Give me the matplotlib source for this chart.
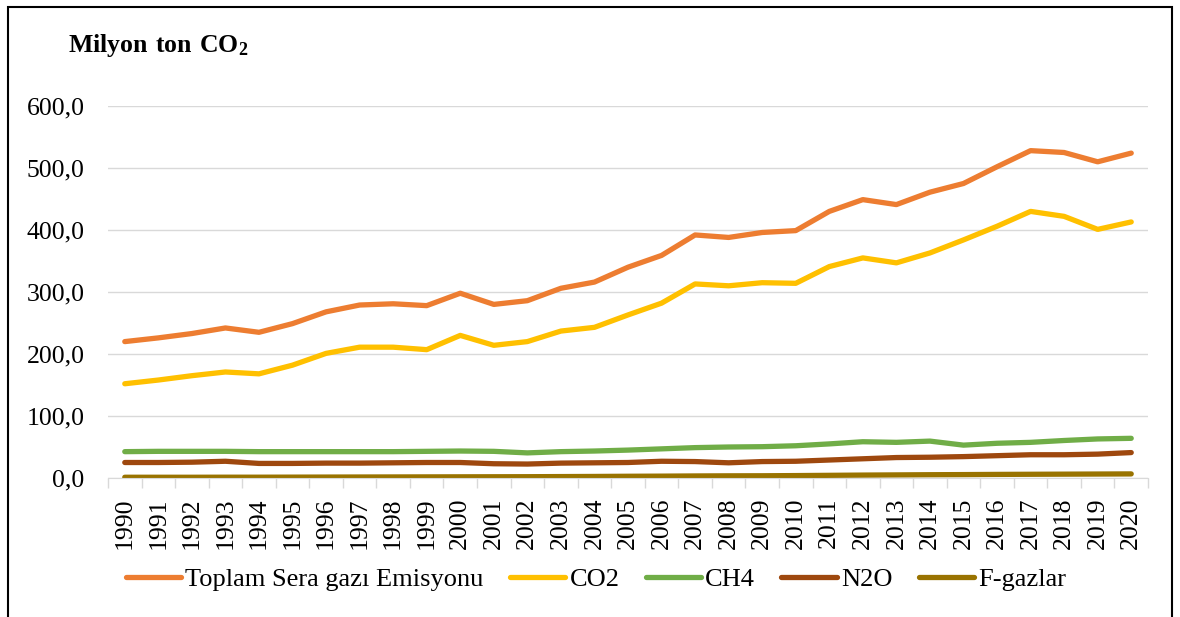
import matplotlib
matplotlib.use("Agg")
import matplotlib.pyplot as plt
import matplotlib.patches as mpat
from matplotlib.ticker import FuncFormatter, MultipleLocator
import numpy as np

plt.rcParams['font.family'] = ['Liberation Serif', 'DejaVu Serif']
plt.rcParams['mathtext.fontset'] = 'custom'
plt.rcParams['mathtext.rm'] = 'Liberation Serif'
plt.rcParams['mathtext.bf'] = 'Liberation Serif:bold'

years = [str(y) for y in range(1990, 2021)]

toplam = [220, 226, 233, 242, 235, 249, 268, 279, 281, 278, 298, 280, 286, 306, 316,
          340, 359, 392, 388, 396, 399, 430, 449, 441, 461, 475, 502, 528, 525, 510, 524]
co2 = [152, 158, 165, 171, 168, 182, 201, 211, 211, 207, 230, 214, 220, 237, 243,
       263, 282, 313, 310, 315, 314, 341, 355, 347, 363, 384, 406, 430, 422, 401, 413]
ch4 = [42.5, 43, 43, 43, 42.5, 42.5, 42.5, 42.5, 42.5, 43, 43.5, 43, 40.5, 42.5, 43.5,
       45, 47, 49, 50, 50.5, 52, 55, 58.5, 57.5, 59.5, 53, 56, 57.5, 60.5, 63, 64]
n2o = [25, 25, 25.5, 27, 23.5, 23.5, 24, 24, 24.5, 25, 25, 23, 22.5, 24, 24.5,
       25, 27, 26.5, 24.5, 26.5, 27, 29, 31, 33, 33.5, 34.5, 36, 37.5, 37.5, 38.5, 41]
fgaz = [1.2, 1.2, 1.2, 1.3, 1.3, 1.4, 1.5, 1.6, 1.7, 1.8, 1.9, 2.0, 2.1, 2.3, 2.5,
        2.8, 3.0, 3.3, 3.5, 3.6, 3.9, 4.3, 4.7, 5.0, 5.3, 5.5, 5.8, 6.0, 6.2, 6.4, 6.6]

series = [
    ("Toplam Sera gazı Emisyonu", toplam, "#ED7D31"),
    ("CO2", co2, "#FFC000"),
    ("CH4", ch4, "#70AD47"),
    ("N2O", n2o, "#9E480E"),
    ("F-gazlar", fgaz, "#997300"),
]

fig = plt.figure(figsize=(11.8, 6.17), dpi=100)
ax = fig.add_axes([108 / 1180, 1 - 478 / 617, 1040 / 1180, 372 / 617])

x = np.arange(len(years))
for label, vals, color in series:
    ax.plot(x, vals, color=color, lw=3.8, label=label, solid_capstyle='round')

ax.set_xlim(-0.5, len(years) - 0.5)
ax.set_ylim(0, 600)
ax.yaxis.set_major_locator(MultipleLocator(100))
ax.yaxis.set_major_formatter(FuncFormatter(lambda v, p: f"{v:.1f}".replace(".", ",")))
ax.grid(axis='y', color='#D9D9D9', lw=1.0)
ax.set_axisbelow(True)

ax.set_xticks(x)
ax.set_xticklabels(years, rotation=90)
ax.set_xticks(np.arange(-0.5, len(years)), minor=True)
ax.tick_params(axis='x', which='major', length=0, pad=14, labelsize=18.5)
ax.tick_params(axis='x', which='minor', length=7, color='#D9D9D9', width=1)
ax.tick_params(axis='y', length=0, pad=17, labelsize=18.5)

for s in ['top', 'right', 'left']:
    ax.spines[s].set_visible(False)
ax.spines['bottom'].set_color('#D9D9D9')

fig.text(68 / 1180, 1 - 52 / 617, r"$\mathbf{Milyon\ ton\ CO_2}$", fontsize=18.5,
         ha='left', va='baseline')

fig.legend(loc='center', bbox_to_anchor=(596 / 1180, 1 - 579 / 617), ncol=5,
           frameon=False, fontsize=19, handlelength=2.1, handletextpad=0.15,
           columnspacing=1.0)

fig.add_artist(mpat.Rectangle((8 / 1180, -0.01), 1164 / 1180, 1.01 - 7 / 617,
                              transform=fig.transFigure, fill=False,
                              edgecolor='black', lw=1.5))

fig.savefig("out.png", dpi=100)
